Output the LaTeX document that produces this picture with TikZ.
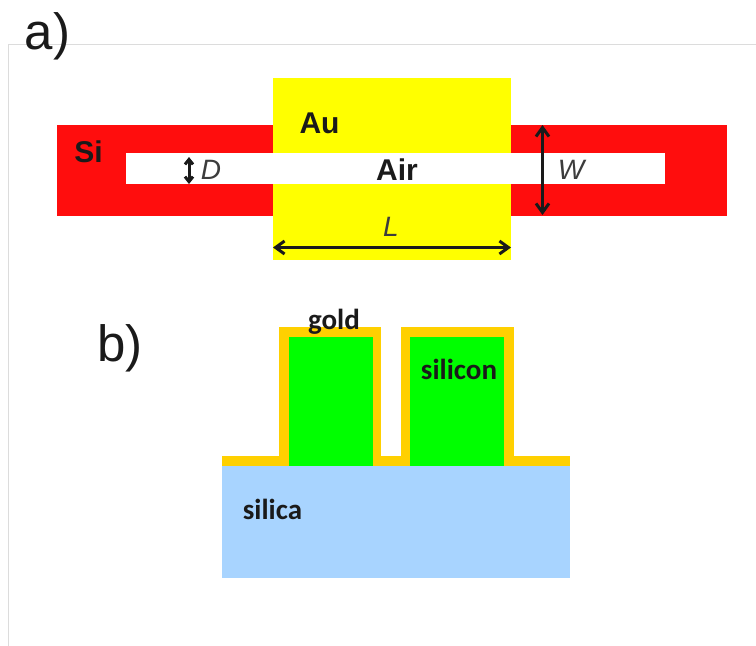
\documentclass[tikz,border=0pt]{standalone}
\usepackage{fontspec}
\setmainfont{Liberation Sans}
\newfontfamily\carl{Carlito}
\usetikzlibrary{arrows.meta}
\definecolor{siRed}{HTML}{FF0D0D}
\definecolor{auYellow}{HTML}{FFFF00}
\definecolor{goldC}{HTML}{FFD000}
\definecolor{siGreen}{HTML}{00FF00}
\definecolor{silicaBlue}{HTML}{A8D4FF}
\definecolor{frameGray}{HTML}{DCDCDC}
\definecolor{inkC}{HTML}{1A1A1A}
\tikzset{
  panel/.style={font=\fontsize{51}{51}\selectfont, text=inkC, inner sep=0pt},
  boldlab/.style={font=\fontsize{30}{30}\selectfont\bfseries, text=inkC, inner sep=0pt},
  itlab/.style={font=\fontsize{28}{28}\selectfont\itshape, text=inkC!85, inner sep=0pt},
  carlab/.style={font=\carl\fontsize{29}{29}\selectfont\bfseries, text=inkC, inner sep=0pt},
  dim/.style={draw=inkC, line width=3pt, {Straight Barb[length=9pt,width=13pt]}-{Straight Barb[length=9pt,width=13pt]}},
  dimsmall/.style={draw=inkC, line width=3pt, {Straight Barb[length=5pt,width=8pt]}-{Straight Barb[length=5pt,width=8pt]}}
}
\begin{document}
\begin{tikzpicture}[x=1pt,y=-1pt]
\useasboundingbox (0,0) rectangle (756,646);
% frame
\draw[frameGray, line width=1pt] (8.5,646) -- (8.5,44.5) -- (756,44.5);
% panel a
\fill[siRed] (57,125) rectangle (727,216);
\fill[auYellow] (273,78) rectangle (511,260);
\fill[white] (126,153) rectangle (665,184);
\coordinate (dT) at (189,157);
\coordinate (dB) at (189,184);
\coordinate (wT) at (542.5,125);
\coordinate (wB) at (542.5,215);
\coordinate (lL) at (273,247.5);
\coordinate (lR) at (511,247.5);
\draw[dimsmall] (dT) -- (dB);
\draw[dim] (wT) -- (wB);
\draw[dim] (lL) -- (lR);
\node[panel] (pa) at (47.5,36) {a)};
\node[boldlab] (si) at (88.5,152) {Si};
\node[boldlab] (au) at (319.5,123.5) {Au};
\node[boldlab] (air) at (397,170) {Air};
\node[itlab] (D) at (211,170) {D};
\node[itlab] (W) at (571,169.5) {W};
\node[itlab] (L) at (391,227) {L};
% panel b
\fill[silicaBlue] (222,466) rectangle (570,578);
\fill[goldC] (222,456) rectangle (570,466);
\fill[goldC] (279,327) rectangle (381,466);
\fill[goldC] (401,327) rectangle (514,466);
\fill[siGreen] (289,337) rectangle (373,466);
\fill[siGreen] (410,337) rectangle (504,466);
\node[panel] (pb) at (120,348) {b)};
\node[carlab] (gold) at (334,322) {gold};
\node[carlab] (silicon) at (459,369) {silicon};
\node[carlab] (silica) at (272.5,509) {silica};
\end{tikzpicture}
\end{document}
